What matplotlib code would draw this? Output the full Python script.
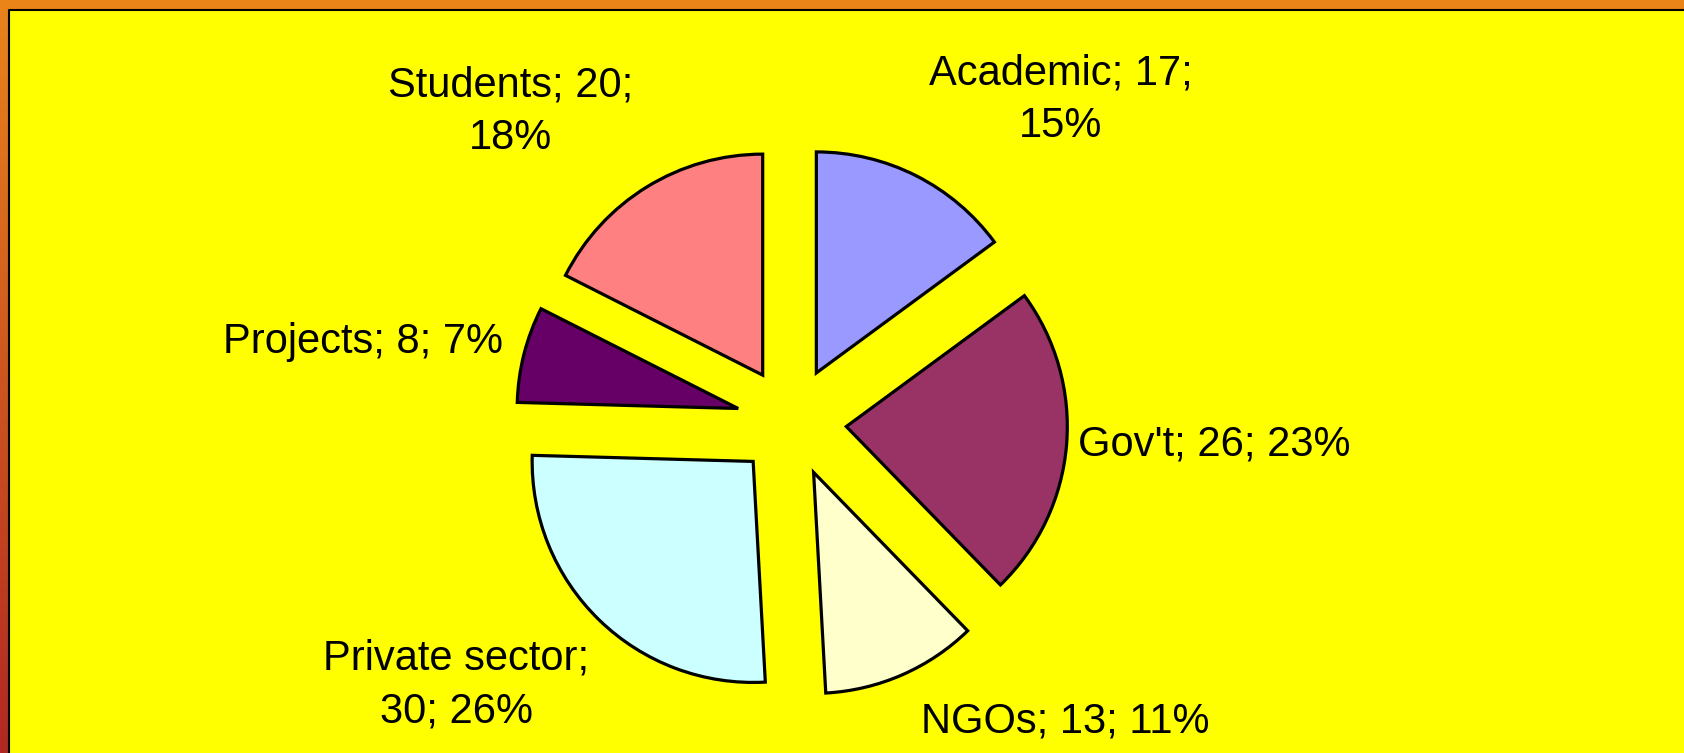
import numpy as np
import matplotlib.pyplot as plt
from matplotlib.patches import Rectangle

# data
categories = ["Academic", "Gov't", "NGOs", "Private sector", "Projects", "Students"]
counts = [17, 26, 13, 30, 8, 20]
percents = [15, 23, 11, 26, 7, 18]
colours = ["#9999FF", "#993366", "#FFFFCC", "#CCFFFF", "#660066", "#FF8080"]

# label texts and where they sit (pixels, y up)
label_texts = [
    "Academic; 17;\n15%",
    "Gov't; 26; 23%",
    "NGOs; 13; 11%",
    "Private sector;\n30; 26%",
    "Projects; 8; 7%",
    "Students; 20;\n18%",
]
label_pos = [(1061, 653), (1214, 309), (1065, 31), (456, 68), (363, 411), (511, 641)]

W, H = 1684, 753
fig = plt.figure(figsize=(W / 100, H / 100), dpi=100)
fig.patch.set_facecolor("#FFFF00")
ax = fig.add_axes([0, 0, 1, 1])
ax.set_facecolor("#FFFF00")

# pie, in pixel units
centre = (791.5, 331)
radius = 221
wedges, _ = ax.pie(
    counts,
    colors=colours,
    startangle=90,
    counterclock=False,
    explode=[55] * len(counts),
    center=centre,
    radius=radius,
    wedgeprops=dict(edgecolor="black", linewidth=2.3, joinstyle="miter"),
)

for txt, (x, y) in zip(label_texts, label_pos):
    ax.text(x, y, txt, ha="center", va="center", fontsize=30,
            family=["Liberation Sans", "DejaVu Sans"], linespacing=1.4)

# orange frame on top and left with a gradient down the left
ax.add_patch(Rectangle((0, H - 9), W, 9, facecolor="#EA8419", edgecolor="none", zorder=5))
grad = np.linspace(0, 1, 256).reshape(-1, 1)
top_c = np.array([0xE8, 0x83, 0x1C]) / 255
bot_c = np.array([0xB0, 0x28, 0x22]) / 255
img = top_c * (1 - grad[..., None]) + bot_c * grad[..., None]
img = img.reshape(256, 1, 3)
ax.imshow(img, extent=[0, 8, 0, H - 9], aspect="auto", zorder=5)
ax.plot([8.5, 8.5, W], [0, H - 9.5, H - 9.5], color="black", linewidth=1.5, zorder=6)

ax.set_xlim(0, W)
ax.set_ylim(0, H)
ax.set_aspect("auto")
ax.axis("off")

fig.savefig("out.png", dpi=100, facecolor=fig.get_facecolor())
